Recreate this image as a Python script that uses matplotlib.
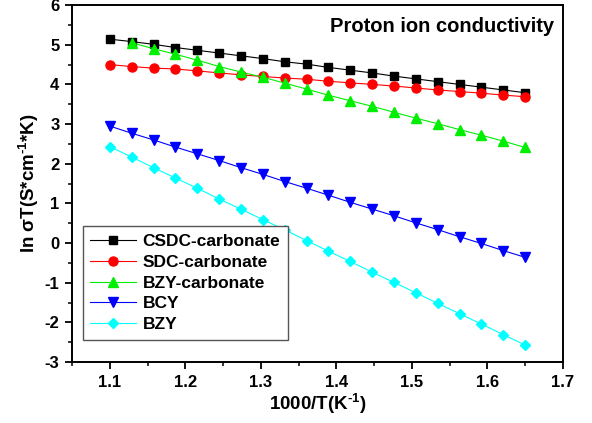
from matplotlib import pyplot as plt
from matplotlib.ticker import MultipleLocator

plt.rcParams['font.family'] = ['Liberation Sans', 'DejaVu Sans']
plt.rcParams['font.weight'] = 'bold'
plt.rcParams['axes.unicode_minus'] = False
plt.rcParams['mathtext.fontset'] = 'custom'
plt.rcParams['mathtext.rm'] = 'Liberation Sans:bold'
plt.rcParams['mathtext.bf'] = 'Liberation Sans:bold'
plt.rcParams['mathtext.default'] = 'rm'

# inverse temperature, 1000/T (K^-1)
inv_t = [1.1, 1.129, 1.158, 1.187, 1.216, 1.245, 1.274, 1.303, 1.332, 1.361,
         1.389, 1.418, 1.447, 1.476, 1.505, 1.534, 1.563, 1.592, 1.621, 1.65]

# ln(sigma*T) for each electrolyte
csdc = [5.14, 5.08, 5.01, 4.93, 4.86, 4.79, 4.72, 4.65, 4.57, 4.51,
        4.43, 4.36, 4.29, 4.21, 4.14, 4.07, 4.00, 3.93, 3.86, 3.79]
sdc = [4.50, 4.45, 4.41, 4.39, 4.34, 4.29, 4.24, 4.20, 4.16, 4.13,
       4.08, 4.04, 4.00, 3.96, 3.91, 3.86, 3.82, 3.78, 3.73, 3.69]
# BZY-carbonate starts at the second temperature
bzy_carb = [5.05, 4.90, 4.76, 4.61, 4.45, 4.31, 4.18, 4.03, 3.88,
            3.73, 3.59, 3.45, 3.30, 3.15, 3.01, 2.86, 2.72, 2.57, 2.41]
bcy = [2.95, 2.77, 2.60, 2.42, 2.25, 2.08, 1.90, 1.73, 1.55, 1.38,
       1.21, 1.03, 0.86, 0.69, 0.51, 0.34, 0.16, -0.01, -0.19, -0.36]
bzy = [2.43, 2.17, 1.90, 1.64, 1.38, 1.11, 0.85, 0.59, 0.33, 0.06,
       -0.20, -0.46, -0.73, -0.99, -1.25, -1.52, -1.78, -2.04, -2.31, -2.57]

fig = plt.figure(figsize=(5.92, 4.23), dpi=100)
ax = fig.add_axes([0.1216, 0.144, 0.8294, 0.844])

lw = 0.8
ms = 6
ax.plot(inv_t, csdc, color='black', marker='s', lw=lw, ms=ms, label='CSDC-carbonate')
ax.plot(inv_t, sdc, color='red', marker='o', lw=lw, ms=ms + 0.5, label='SDC-carbonate')
ax.plot(inv_t[1:], bzy_carb, color='#00ee00', marker='^', lw=lw, ms=ms + 1, label='BZY-carbonate')
ax.plot(inv_t, bcy, color='blue', marker='v', lw=lw, ms=ms + 1, label='BCY')
ax.plot(inv_t, bzy, color='cyan', marker='D', lw=lw, ms=ms - 0.5, label='BZY')

ax.set_xlim(1.05, 1.7)
ax.set_ylim(-3, 6)
ax.xaxis.set_major_locator(MultipleLocator(0.1))
ax.xaxis.set_minor_locator(MultipleLocator(0.05))
ax.yaxis.set_major_locator(MultipleLocator(1))
ax.yaxis.set_minor_locator(MultipleLocator(0.5))
ax.tick_params(which='major', direction='out', length=5, width=1.3, labelsize=12, pad=4)
ax.tick_params(which='minor', direction='out', length=3, width=1.1)
for lab in ax.get_xticklabels() + ax.get_yticklabels():
    lab.set_fontweight('bold')
for s in ax.spines.values():
    s.set_linewidth(1.4)

ax.set_xlabel(r'1000/T(K$^{\text{-1}}$)', fontsize=13.5, fontweight='bold', labelpad=2)
ax.set_ylabel(r'ln σT(S*cm$^{\text{-1}}$*K)', fontsize=13.5, fontweight='bold', labelpad=3)

ax.text(0.982, 0.94, 'Proton ion conductivity', transform=ax.transAxes,
        ha='right', va='center', fontsize=14.5, fontweight='bold')

leg = ax.legend(loc='lower left', bbox_to_anchor=(0.004, 0.038), fontsize=12.5,
                fancybox=False, framealpha=1, edgecolor='#555555',
                handlelength=2.6, labelspacing=0.32, borderpad=0.45, handletextpad=0.4)
leg.get_frame().set_linewidth(1.0)

fig.savefig('out.png', dpi=100)
